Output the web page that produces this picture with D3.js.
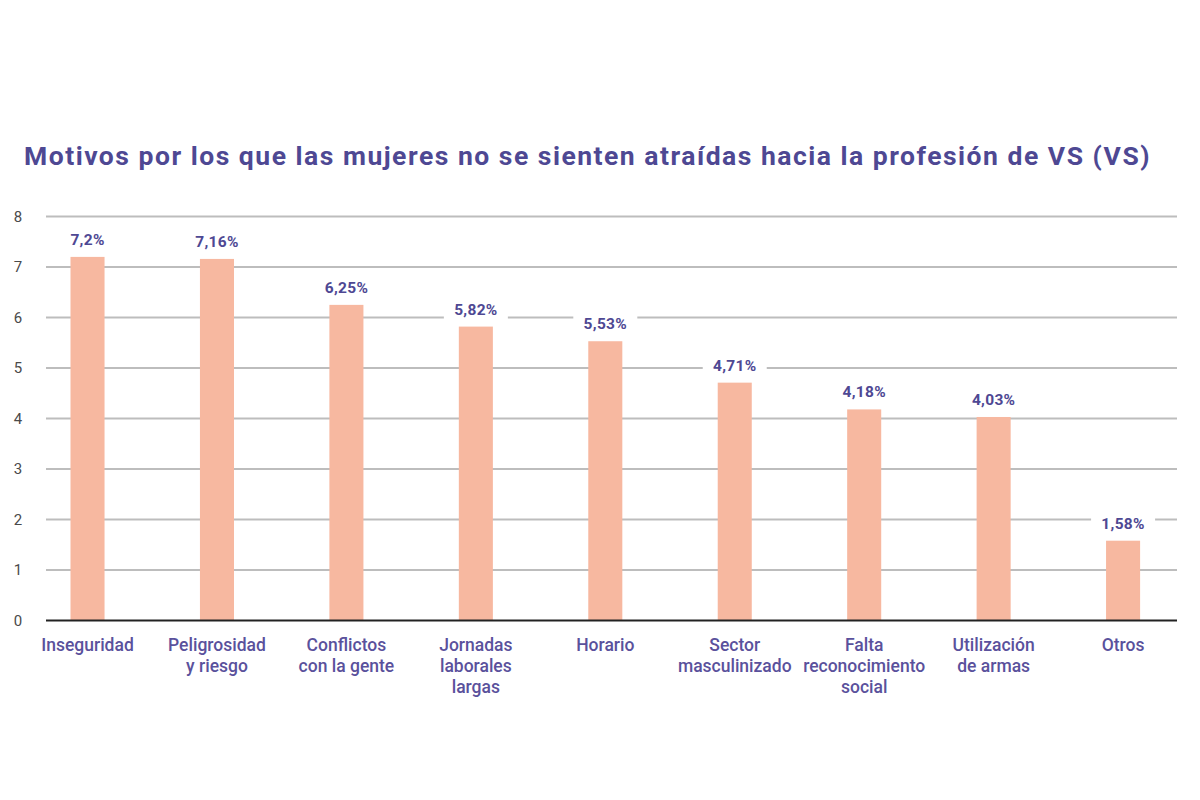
<!DOCTYPE html>
<html>
<head>
<meta charset="utf-8">
<script src="https://cdn.jsdelivr.net/npm/d3@7"></script>
<style>
  html, body { margin: 0; padding: 0; background: #ffffff; }
  svg { display: block; }
</style>
</head>
<body>
<svg id="chart" width="1200" height="800"></svg>
<script>
const title = "Motivos por los que las mujeres no se sienten atraídas hacia la profesión de VS (VS)";
const categories = ["Inseguridad", "Peligrosidad y riesgo", "Conflictos con la gente", "Jornadas laborales largas", "Horario", "Sector masculinizado", "Falta reconocimiento social", "Utilización de armas", "Otros"];
const categoryLines = [["Inseguridad"], ["Peligrosidad", "y riesgo"], ["Conflictos", "con la gente"], ["Jornadas", "laborales", "largas"], ["Horario"], ["Sector", "masculinizado"], ["Falta", "reconocimiento", "social"], ["Utilización", "de armas"], ["Otros"]];
const values = [7.2, 7.16, 6.25, 5.82, 5.53, 4.71, 4.18, 4.03, 1.58];
const valueLabels = ["7,2%", "7,16%", "6,25%", "5,82%", "5,53%", "4,71%", "4,18%", "4,03%", "1,58%"];
const yTicks = [0, 1, 2, 3, 4, 5, 6, 7, 8];

const svg = d3.select("#chart");
const font = "Roboto, 'Noto Sans', sans-serif";
const purple = "#4e4893";

const x = d3.scaleBand().domain(categories).range([22.8, 1187.8]).paddingInner(0.737).paddingOuter(0.3685);
const y = d3.scaleLinear().domain([0, 8]).range([620.5, 216.5]);
const gridX0 = 46, gridX1 = 1177;

// title
svg.append("text")
  .attr("x", 24).attr("y", 165)
  .attr("font-family", font).attr("font-weight", 700).attr("font-size", 26.5)
  .attr("letter-spacing", 1.5)
  .attr("fill", purple)
  .text(title);

// gridlines
svg.append("g").selectAll("line").data(yTicks.filter(d => d > 0)).join("line")
  .attr("x1", gridX0).attr("x2", gridX1)
  .attr("y1", d => y(d)).attr("y2", d => y(d))
  .attr("stroke", "#bdbdbd").attr("stroke-width", 2);

// y tick labels
svg.append("g").selectAll("text").data(yTicks).join("text")
  .attr("x", 18).attr("y", d => y(d)).attr("dy", "0.35em")
  .attr("text-anchor", "middle")
  .attr("font-family", font).attr("font-size", 15).attr("fill", "#4a4a4a")
  .text(d => d);

// bars
svg.append("g").selectAll("rect").data(values).join("rect")
  .attr("x", (d, i) => x(categories[i]))
  .attr("width", x.bandwidth())
  .attr("y", d => y(d))
  .attr("height", d => y(0) - y(d))
  .attr("fill", "#f7b8a0");

// zero axis line
svg.append("line")
  .attr("x1", gridX0).attr("x2", gridX1)
  .attr("y1", y(0)).attr("y2", y(0))
  .attr("stroke", "#222222").attr("stroke-width", 2);

// value labels with white background
const lab = svg.append("g").selectAll("g").data(values).join("g")
  .attr("transform", (d, i) => `translate(${x(categories[i]) + x.bandwidth() / 2},${y(d) - 12})`);
lab.append("rect")
  .attr("x", -32).attr("y", -15).attr("width", 64).attr("height", 20)
  .attr("fill", "#ffffff");
lab.append("text")
  .attr("text-anchor", "middle")
  .attr("font-family", font).attr("font-weight", 700).attr("font-size", 15.5)
  .attr("letter-spacing", 0.3)
  .attr("fill", purple)
  .text((d, i) => valueLabels[i]);

// category labels
const cat = svg.append("g").selectAll("text").data(categories).join("text")
  .attr("x", d => x(d) + x.bandwidth() / 2)
  .attr("y", 651)
  .attr("text-anchor", "middle")
  .attr("font-family", font).attr("font-weight", 500).attr("font-size", 17.5)
  .attr("fill", "#5a519c");
cat.selectAll("tspan").data((d, i) => categoryLines[i]).join("tspan")
  .attr("x", function () { return d3.select(this.parentNode).attr("x"); })
  .attr("dy", (d, j) => j === 0 ? 0 : 21)
  .text(d => d);
</script>
</body>
</html>
